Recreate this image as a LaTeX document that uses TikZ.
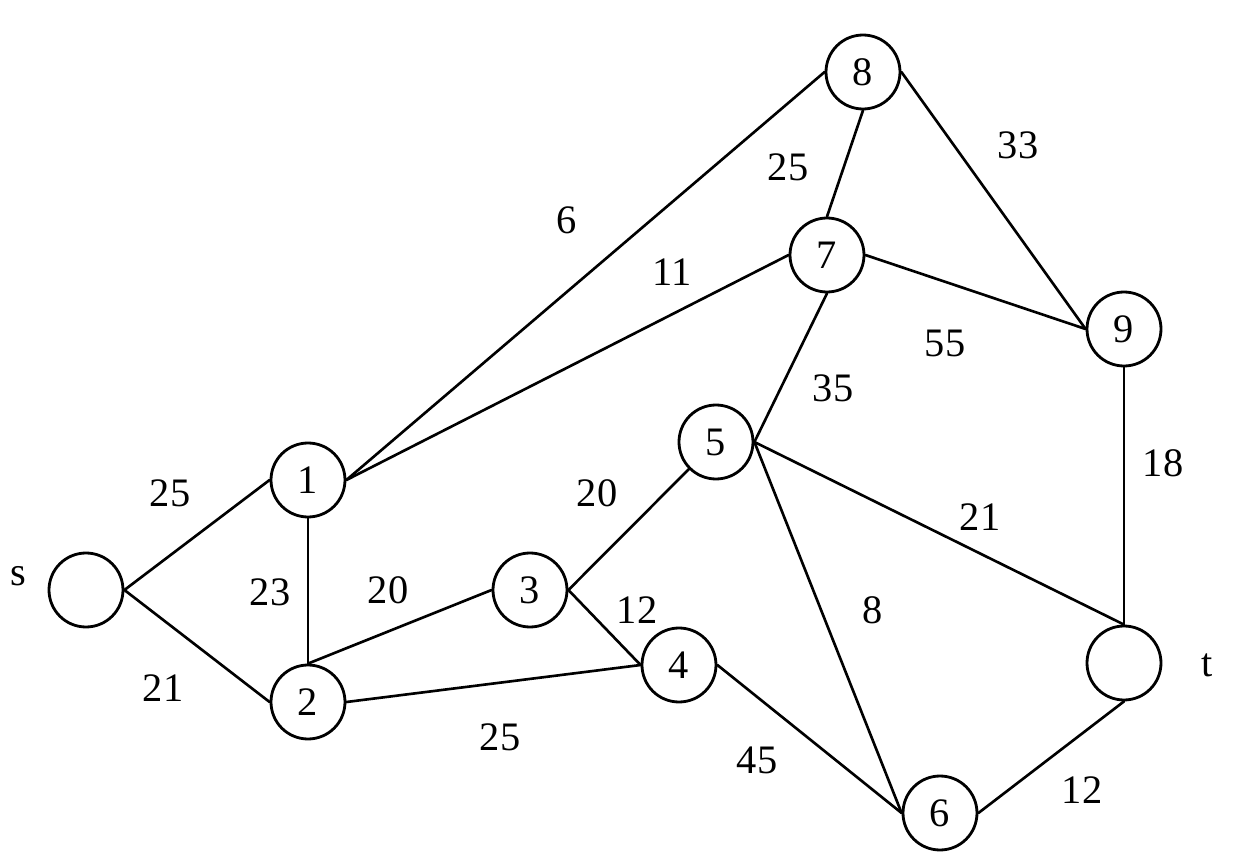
\documentclass[tikz,border=0pt]{standalone}
\usepackage{fontspec}
\setmainfont{Liberation Serif}
\begin{document}
\begin{tikzpicture}[x=0.2mm,y=-0.2mm,line join=round,line cap=round,font=\fontsize{23}{27}\selectfont,
	vertex/.style={draw,circle,line width=1.6pt,minimum size=14.8mm,inner sep=0pt},
	edge/.style={line width=1.5pt}]
				\useasboundingbox (0,0) rectangle (1258,867);
				\foreach \n/\x/\y/\t in {s/86/590/{},1/308/480/1,2/308/702/2,3/530/590/3,4/679/665/4,5/716/442/5,6/940/813/6,7/827/255/7,8/863/72/8,9/1124/329/9,t/1124/663/{}}
				\node[vertex] (v\n) at (\x,\y) {\t};
				\node (ls) at (18,576) {s};
				\node (lt) at (1207,665) {t};
				\foreach \a/\b/\w/\x/\y in {
					s.east/1.west/25/170/493,
					s.east/2.west/21/163/688,
					1.south/2.north/23/270/592,
					1.east/8.west/6/567/220,
					1.east/7.west/11/672/272,
					2.north/3.west/20/388/590,
					2.east/4.west/25/500/737,
					3.east/5.south west/20/597/493,
					3.east/4.west/12/637/610,
					4.east/6.west/45/757/760,
					5.east/7.south/35/833/388,
					5.east/6.west/8/873/610,
					5.east/t.north/21/980/517,
					7.north/8.south/25/788/167,
					7.east/9.west/55/945/343,
					8.east/9.west/33/1018/145,
					9.south/t.north/18/1163/463,
					6.east/t.south/12/1082/790}
				{\draw[edge] (v\a)--(v\b);
				\node (w\w-\x) at (\x,\y) {\w};}
\end{tikzpicture}
\end{document}
